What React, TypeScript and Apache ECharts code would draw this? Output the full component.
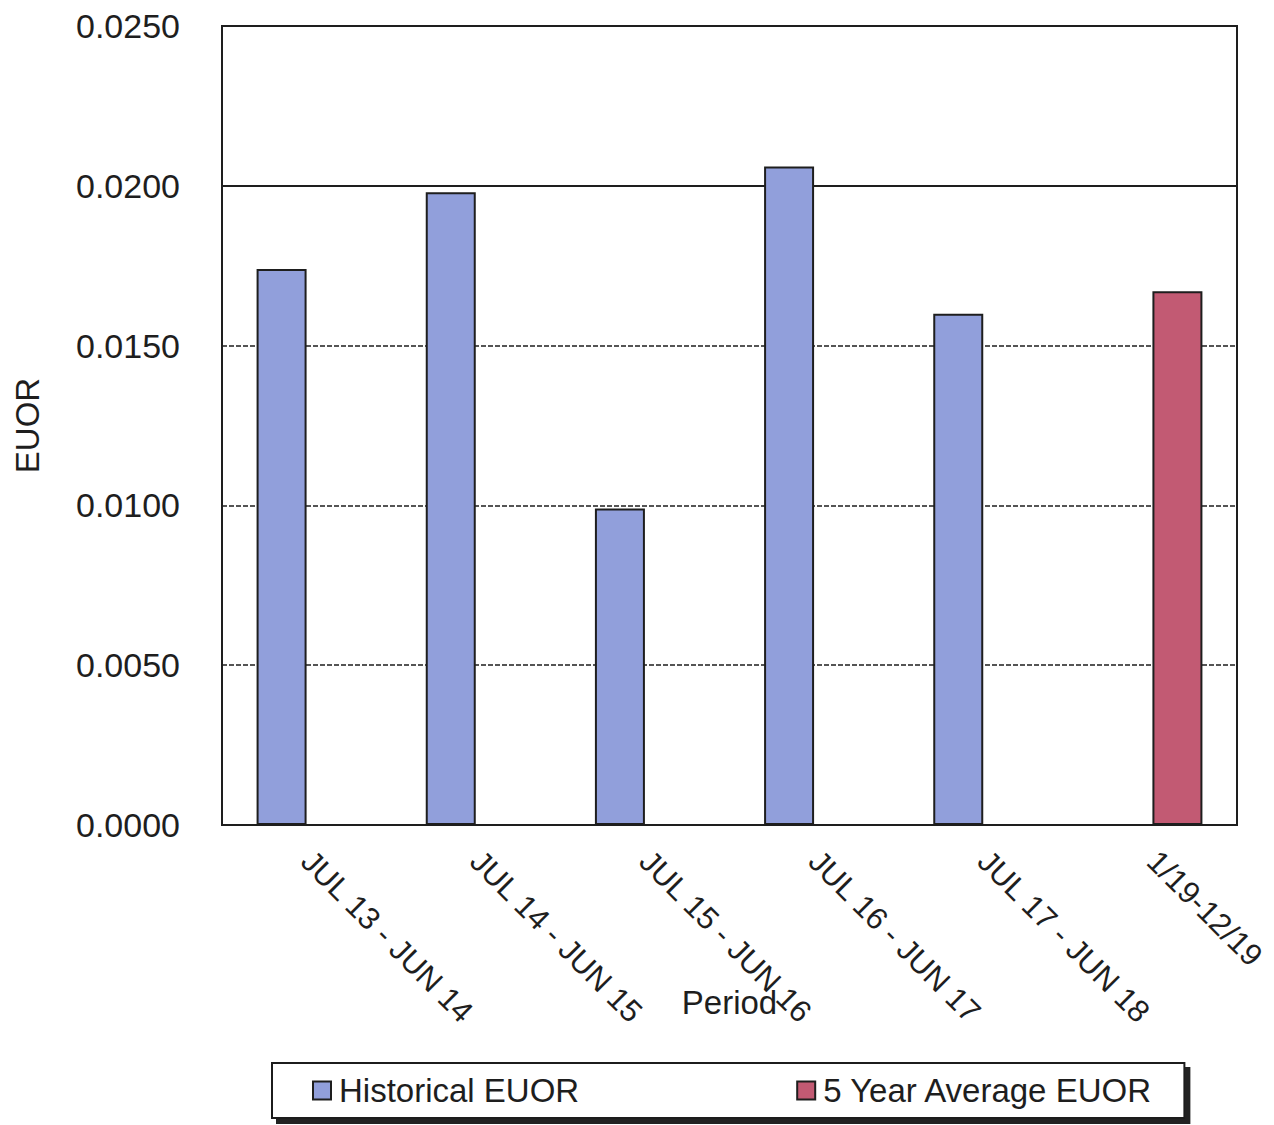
import React, { useEffect, useRef } from "react";
import * as echarts from "echarts";

// Reporting periods on the category axis
const periods = [
  "JUL 13 - JUN 14",
  "JUL 14 - JUN 15",
  "JUL 15 - JUN 16",
  "JUL 16 - JUN 17",
  "JUL 17 - JUN 18",
  "1/19-12/19",
];

// Equivalent unplanned outage rate per period
const historicalEuor = [0.0174, 0.0198, 0.0099, 0.0206, 0.016, null];
const averageEuor = [null, null, null, null, null, 0.0167];

// Value-axis ticks
const yTicks = [0, 0.005, 0.01, 0.015, 0.02, 0.025];
// Gridline that is drawn solid rather than dashed
const solidGridValue = 0.02;

const FONT = "'Liberation Sans', Arial, Helvetica, sans-serif";
const INK = "#1e1e1e";

export default function App() {
  const ref = useRef<HTMLDivElement>(null);

  useEffect(() => {
    document.body.style.margin = "0";
    if (!ref.current) return;
    const chart = echarts.init(ref.current, undefined, { renderer: "svg" });
    const yMin = yTicks[0];
    const yMax = yTicks[yTicks.length - 1];
    chart.setOption({
      animation: false,
      backgroundColor: "#ffffff",
      textStyle: { fontFamily: FONT, color: INK },
      grid: {
        left: 222,
        right: 37,
        top: 26,
        bottom: 300,
        show: true,
        borderColor: INK,
        borderWidth: 2,
        containLabel: false,
        outerBoundsMode: "none",
      },
      legend: {
        data: ["Historical EUOR", "5 Year Average EUOR"],
        left: 272,
        top: 1063,
        orient: "horizontal",
        icon: "rect",
        itemWidth: 18,
        itemHeight: 18,
        itemGap: 217,
        padding: [11, 31, 11, 40],
        borderColor: INK,
        borderWidth: 2,
        backgroundColor: "#ffffff",
        shadowColor: "#222222",
        shadowBlur: 0,
        shadowOffsetX: 5,
        shadowOffsetY: 5,
        textStyle: { fontFamily: FONT, fontSize: 33, color: INK, padding: [0, 0, 0, 3] },
      },
      xAxis: {
        type: "category",
        data: periods,
        name: "Period",
        nameLocation: "middle",
        nameGap: 161,
        nameMoveOverlap: false,
        nameTextStyle: { fontFamily: FONT, fontSize: 33, color: INK },
        axisLine: { show: true, lineStyle: { color: INK, width: 2 } },
        axisTick: { show: false },
        axisLabel: {
          interval: 0,
          rotate: -45,
          margin: 31,
          fontFamily: FONT,
          fontSize: 31,
          color: INK,
        },
      },
      yAxis: [
        {
          type: "value",
          min: yMin,
          max: yMax,
          interval: yTicks[1] - yTicks[0],
          name: "EUOR",
          nameLocation: "middle",
          nameGap: 178,
          nameMoveOverlap: false,
          nameTextStyle: { fontFamily: FONT, fontSize: 33, color: INK },
          axisLine: { show: true, lineStyle: { color: INK, width: 2 } },
          axisTick: { show: false },
          axisLabel: {
            margin: 42,
            fontFamily: FONT,
            fontSize: 34,
            color: INK,
            formatter: (v: number) => v.toFixed(4),
          },
          splitLine: {
            show: true,
            lineStyle: { color: INK, width: 1.5, type: [5, 2] },
          },
        },
        {
          // overlay axis carrying the solid gridline
          type: "value",
          min: yMin,
          max: yMax,
          interval: solidGridValue,
          axisLine: { show: false },
          axisTick: { show: false },
          axisLabel: { show: false },
          splitLine: {
            show: true,
            lineStyle: { color: INK, width: 2, type: "solid" },
          },
        },
      ],
      series: [
        {
          name: "Historical EUOR",
          type: "bar",
          data: historicalEuor,
          barWidth: 50,
          barGap: "0%",
          itemStyle: { color: "#919fdb", borderColor: INK, borderWidth: 2 },
        },
        {
          name: "5 Year Average EUOR",
          type: "bar",
          data: averageEuor,
          barWidth: 50,
          barGap: "0%",
          itemStyle: { color: "#c25a73", borderColor: INK, borderWidth: 2 },
        },
      ],
    });
    return () => chart.dispose();
  }, []);

  return <div ref={ref} style={{ width: 1274, height: 1125 }} />;
}
